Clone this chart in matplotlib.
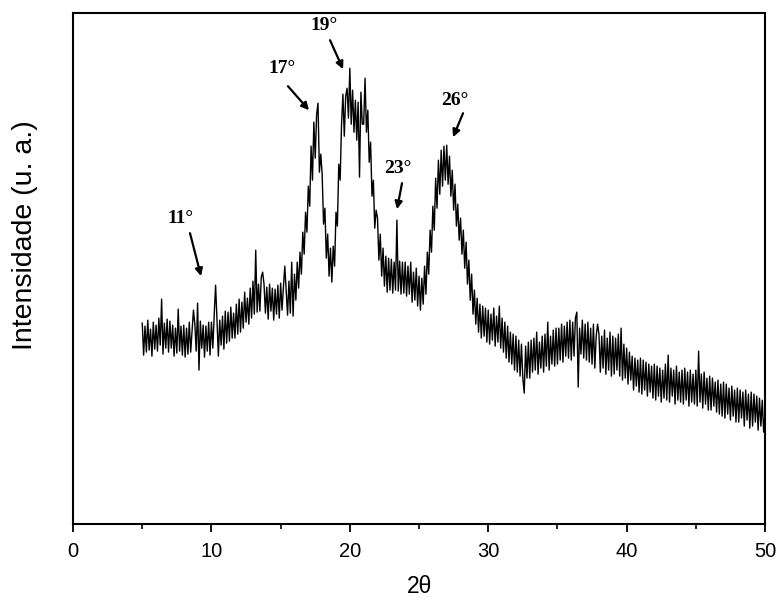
import matplotlib
matplotlib.use('Agg')
import matplotlib.pyplot as plt
import numpy as np

# DRX: intensidade, passo de 0.1 grau (2theta de 5 a 50)
start_angle = 5.0
step = 0.1
intensity = [
    201, 169, 198, 172, 204, 174, 195, 168, 202, 175,   # 5
    199, 173, 206, 179, 225, 170, 201, 176, 205, 172,   # 6
    203, 176, 199, 168, 196, 171, 215, 173, 198, 169,   # 7
    199, 167, 196, 170, 202, 172, 193, 214, 200, 173,   # 8
    221, 154, 203, 176, 199, 167, 198, 173, 202, 169,   # 9
    202, 176, 209, 239, 205, 168, 204, 179, 208, 175,   # 10
    213, 181, 212, 183, 217, 186, 211, 186, 220, 190,   # 11
    225, 192, 222, 196, 232, 202, 226, 200, 236, 206,   # 12
    243, 210, 274, 212, 240, 213, 247, 252, 240, 211,   # 13
    237, 205, 240, 213, 236, 204, 235, 210, 239, 206,   # 14
    241, 214, 237, 258, 234, 209, 243, 211, 262, 208,   # 15
    250, 224, 262, 236, 272, 250, 292, 270, 312, 292,   # 16
    338, 318, 378, 344, 402, 366, 410, 421, 352, 370,   # 17
    350, 300, 316, 266, 290, 248, 276, 242, 278, 258,   # 18
    312, 298, 360, 344, 400, 430, 388, 428, 436, 406,   # 19
    456, 400, 434, 392, 424, 384, 422, 347, 432, 400,   # 20
    400, 446, 392, 414, 362, 382, 328, 344, 296, 314,   # 21
    306, 264, 290, 248, 276, 238, 268, 232, 266, 234,   # 22
    265, 231, 262, 234, 304, 233, 263, 230, 262, 231,   # 23
    262, 228, 258, 230, 262, 222, 252, 224, 256, 218,   # 24
    248, 214, 246, 220, 258, 230, 272, 250, 294, 272,   # 25
    318, 294, 346, 316, 364, 330, 374, 338, 378, 344,   # 26
    379, 340, 368, 328, 354, 314, 340, 298, 320, 284,   # 27
    306, 270, 294, 256, 282, 240, 264, 224, 250, 210,   # 28
    234, 200, 226, 192, 220, 186, 218, 188, 216, 182,   # 29
    214, 180, 210, 184, 216, 178, 208, 182, 218, 176,   # 30
    206, 172, 202, 166, 198, 162, 192, 160, 190, 154,   # 31
    188, 152, 184, 148, 180, 146, 131, 178, 146, 182,   # 32
    146, 184, 152, 186, 154, 192, 150, 182, 156, 188,   # 33
    152, 190, 158, 202, 154, 188, 160, 194, 158, 196,   # 34
    160, 196, 164, 200, 162, 198, 168, 202, 166, 204,   # 35
    164, 202, 168, 206, 212, 137, 196, 170, 204, 166,   # 36
    200, 164, 202, 162, 196, 160, 200, 156, 188, 200,   # 37
    190, 152, 188, 156, 194, 150, 186, 154, 192, 148,   # 38
    188, 150, 186, 154, 190, 148, 196, 144, 180, 146,   # 39
    176, 140, 172, 144, 168, 134, 166, 138, 164, 132,   # 40
    166, 130, 164, 134, 162, 128, 160, 132, 158, 126,   # 41
    160, 124, 158, 128, 156, 122, 154, 126, 160, 124,   # 42
    169, 122, 156, 128, 154, 120, 158, 124, 152, 122,   # 43
    154, 120, 156, 124, 152, 118, 154, 122, 150, 120,   # 44
    154, 118, 173, 122, 150, 116, 152, 120, 146, 114,   # 45
    148, 114, 146, 118, 142, 112, 144, 110, 140, 108,   # 46
    142, 106, 140, 110, 136, 104, 138, 108, 134, 102,   # 47
    136, 102, 134, 106, 132, 98, 134, 104, 130, 96,     # 48
    132, 98, 130, 102, 128, 94, 126, 98, 124, 92,       # 49
    112,                                                # 50
]
two_theta = start_angle + step * np.arange(len(intensity))

# picos marcados
peak_labels = ['11°', '17°', '19°', '23°', '26°']
# (texto x, texto y, cauda x, cauda y, ponta x, ponta y)
peak_arrows = [
    (7.73, 306, 8.45, 291, 9.25, 248),
    (15.10, 456, 15.53, 438, 17.05, 414),
    (18.14, 499, 18.57, 484, 19.51, 455),
    (23.48, 356, 23.77, 341, 23.41, 315),
    (27.60, 424, 28.18, 411, 27.46, 387),
]

fig = plt.figure(figsize=(7.77, 6.01), dpi=100)
ax = fig.add_axes([0.094, 0.128, 0.8906, 0.850])

ax.plot(two_theta, intensity, color='black', linewidth=1.0)

for label, (tx, ty, ax0, ay0, ax1, ay1) in zip(peak_labels, peak_arrows):
    ax.text(tx, ty, label, ha='center', va='center', fontsize=14,
            fontweight='bold', family='Liberation Serif')
    ax.annotate('', xy=(ax1, ay1), xytext=(ax0, ay0),
                arrowprops=dict(arrowstyle='-|>', color='black', lw=1.6,
                                mutation_scale=11, shrinkA=0, shrinkB=0))

ax.set_xlim(0, 50)
ax.set_ylim(0, 511)
ax.set_xticks([0, 10, 20, 30, 40, 50])
ax.set_xticks([5, 15, 25, 35, 45], minor=True)
ax.set_yticks([])
ax.tick_params(axis='x', which='major', direction='out', length=6, width=1.3,
               labelsize=14.5, pad=7)
ax.tick_params(axis='x', which='minor', direction='out', length=3.5, width=1.2)
for sp in ax.spines.values():
    sp.set_linewidth(1.5)

for t in ax.get_xticklabels():
    t.set_family('Liberation Sans')
ax.set_xlabel('2θ', fontsize=16.5, family='Liberation Sans', labelpad=10)
fig.text(25 / 777, 1 - 235 / 601, 'Intensidade (u. a.)', rotation=90,
         ha='center', va='center', fontsize=20.5, family='Liberation Sans')

fig.savefig('out.png', dpi=100)
